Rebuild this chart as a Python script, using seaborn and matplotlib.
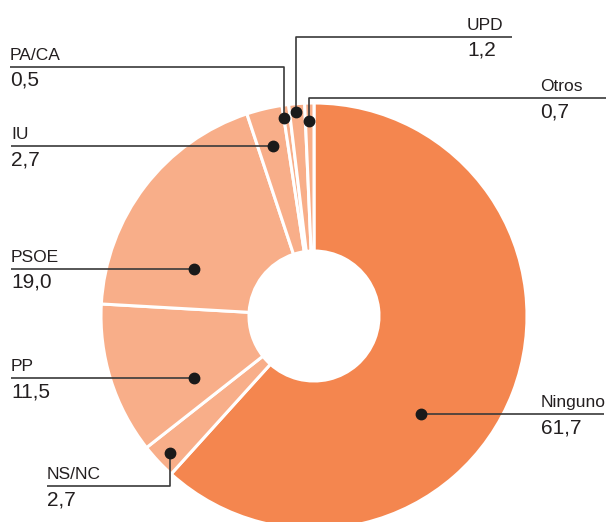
import numpy as np
import matplotlib
matplotlib.use("Agg")
import matplotlib.pyplot as plt
import seaborn as sns

# data, in clockwise order starting from the top
parties = ["Ninguno", "NS/NC", "PP", "PSOE", "IU", "PA/CA", "UPD", "Otros"]
shares = [61.7, 2.7, 11.5, 19.0, 2.7, 0.5, 1.2, 0.7]
value_labels = ["61,7", "2,7", "11,5", "19,0", "2,7", "0,5", "1,2", "0,7"]

# colours
dark_orange = "#F4864F"
light_orange = "#F8AE89"
colors = [dark_orange] + [light_orange] * (len(parties) - 1)

sns.set_theme(style="white")
plt.rcParams["font.family"] = ["Liberation Sans", "DejaVu Sans"]

W, H = 606, 522
fig = plt.figure(figsize=(W / 100, H / 100), dpi=100)
ax = fig.add_axes([0, 0, 1, 1])
ax.set_xlim(0, W)
ax.set_ylim(0, H)
ax.set_aspect("equal")
ax.axis("off")

# pixel -> axis coords (y flipped)
def P(x, y):
    return x, H - y

cx, cy = P(314, 316)
outer_r = 213
inner_r = 65

ax.pie(shares, colors=colors, startangle=90, counterclock=False,
       center=(cx, cy), radius=outer_r, frame=True,
       wedgeprops=dict(width=outer_r - inner_r, edgecolor="white", linewidth=2.2))
ax.set_xlim(0, W)
ax.set_ylim(0, H)
ax.axis("off")

# leader lines layout: path of the leader (pixels), text anchor x, line y
leaders = {
    "UPD":     dict(path=[(296, 112), (296, 37), (512, 37)], tx=467, ly=37),
    "Otros":   dict(path=[(309, 121), (309, 98), (606, 98)], tx=540, ly=98),
    "PA/CA":   dict(path=[(284, 118), (284, 67), (10, 67)], tx=10, ly=67),
    "IU":      dict(path=[(273, 146), (11, 146)], tx=11, ly=146),
    "PSOE":    dict(path=[(194, 269), (11, 269)], tx=11, ly=269),
    "PP":      dict(path=[(194, 378), (11, 378)], tx=11, ly=378),
    "NS/NC":   dict(path=[(170, 453), (170, 486), (47, 486)], tx=47, ly=486),
    "Ninguno": dict(path=[(421, 414), (604, 414)], tx=541, ly=414),
}

text_color = "#231F20"
line_color = "#3A3A3A"

for name, val in zip(parties, value_labels):
    lead = leaders[name]
    pts = [P(x, y) for x, y in lead["path"]]
    xs, ys = zip(*pts)
    ax.plot(xs, ys, color=line_color, lw=1.2, solid_capstyle="butt", zorder=5)
    ax.plot(xs[0], ys[0], "o", color="#1A1A1A", markersize=7.5, zorder=6)
    tx, ty = P(lead["tx"], lead["ly"])
    ax.text(tx, ty + 4, name, ha="left", va="bottom", fontsize=12.5,
            color=text_color)
    ax.text(tx, ty - 4, val, ha="left", va="top", fontsize=15,
            color=text_color)

fig.savefig("out.png", dpi=100)
